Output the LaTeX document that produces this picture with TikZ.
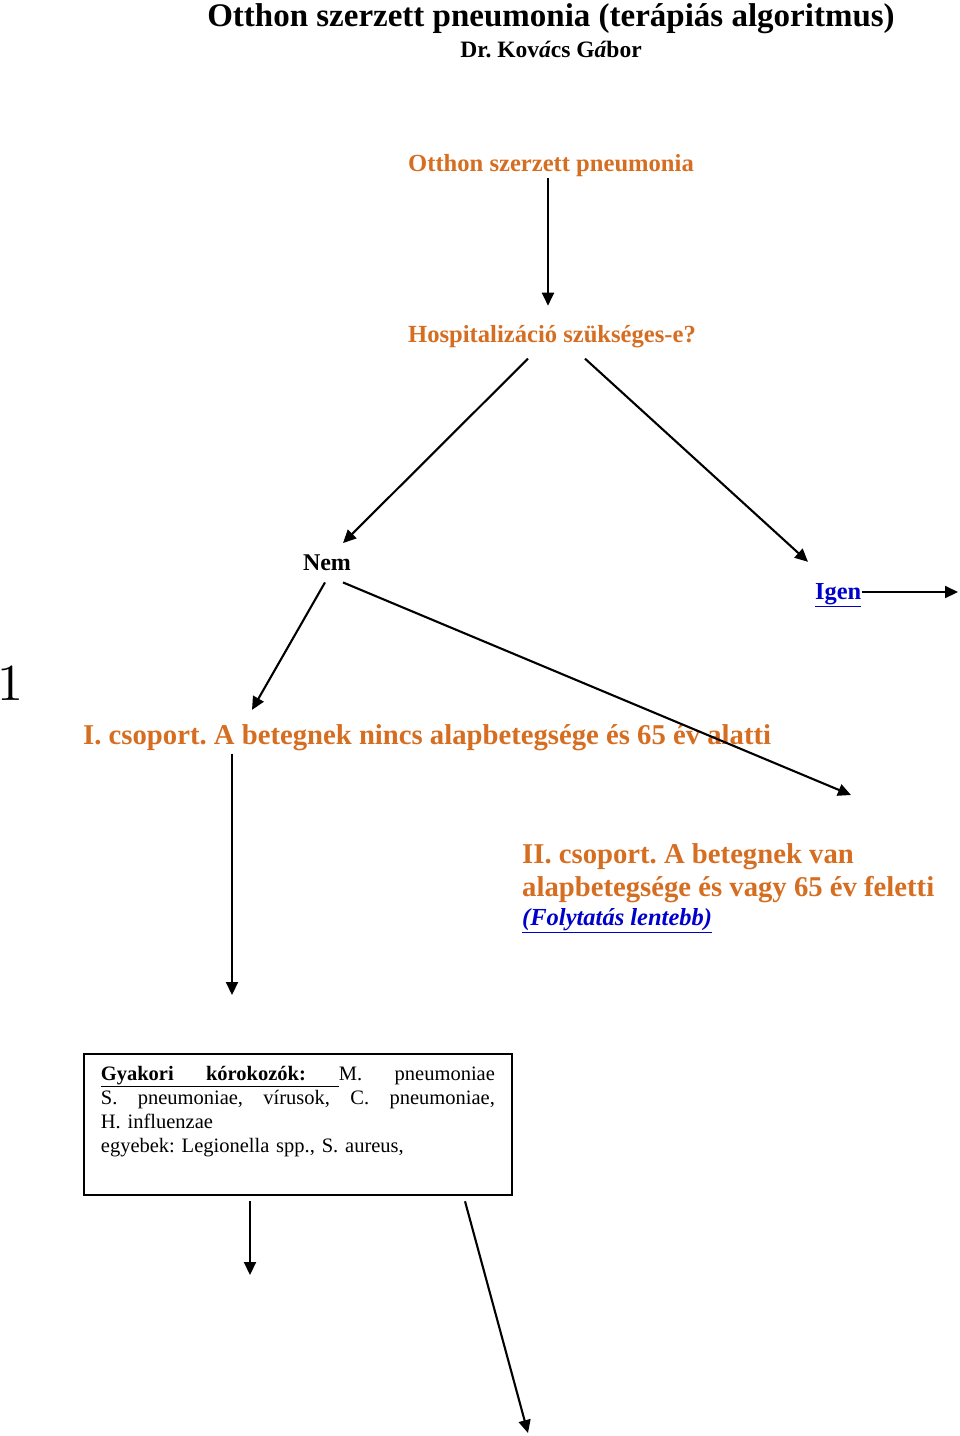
\documentclass[tikz,border=0pt]{standalone}
\usepackage{fontspec}
\setmainfont{Liberation Serif}
\newfontfamily\egyfont[Extension=.otf]{lmroman10-regular}
\usepackage{tikz}
\usetikzlibrary{arrows.meta,positioning}
\usepackage{xcolor}
\setlength{\parindent}{0pt}
\definecolor{osorange}{RGB}{214,110,34}
\definecolor{oslink}{RGB}{0,0,204}
\tikzstyle{arrow} = [line width=2.1pt,-{Triangle[length=13pt,width=12pt]},color=black]
\tikzstyle{cim} = [inner sep=0pt, font=\bfseries\fontsize{33}{36}\selectfont]
\tikzstyle{szerzo} = [inner sep=0pt, font=\bfseries\fontsize{23.5}{28}\selectfont]
\tikzstyle{lepes} = [inner sep=0pt, text=osorange, font=\bfseries\fontsize{24.6}{30}\selectfont]
\tikzstyle{lepesnagy} = [inner sep=0pt, text=osorange, align=left, font=\bfseries\fontsize{28.7}{33}\selectfont]
\tikzstyle{dontes} = [inner sep=0pt, font=\bfseries\fontsize{24}{30}\selectfont]
\tikzstyle{link} = [inner sep=0pt, text=oslink, font=\bfseries\fontsize{24.4}{30}\selectfont]
\tikzstyle{korbox} = [rectangle, draw=black, line width=1.8pt, anchor=north west, align=left, text width=394pt, inner xsep=17pt, inner ysep=12pt, font=\fontsize{20.5}{24}\selectfont]

\begin{document}
\frenchspacing
\begin{tikzpicture}[x=1pt,y=-1pt]
    \useasboundingbox (0,0) rectangle (960,1436);

    % Title
    \node[cim, anchor=base] (cim) at (551,26) {Otthon szerzett pneumonia (terápiás algoritmus)};
    \node[szerzo, anchor=base] (szerzo) at (551,57) {Dr. Kov\textit{á}cs G\textit{á}bor};

    % Top steps
    \node[lepes, anchor=base] (osp) at (551,171) {Otthon szerzett pneumonia};
    \node[lepes, anchor=base] (hosp) at (552,342) {Hospitalizáció szükséges-e?};

    % Decision
    \node[dontes, anchor=base] (nem) at (327,570) {Nem};
    \node[link, anchor=base west] (igen) at (815,599) {\underline{Igen}};
    \coordinate (igenki) at (958,592);

    \node[anchor=base west, inner sep=0pt, font=\egyfont\fontsize{52}{56}\selectfont] (egy) at (-3,700) {1};

    % Groups
    \node[lepesnagy, anchor=base west] (csop1) at (83,744) {I. csoport. A betegnek nincs alapbetegsége és 65 év alatti};
    \node[lepesnagy, anchor=north west] (csop2) at (522,843) {II. csoport. A betegnek van\\alapbetegsége és vagy 65 év feletti\\[-4pt]{\fontsize{24.5}{28}\selectfont\itshape\color{oslink}\underline{(Folytatás lentebb)}}};

    % Pathogens
    \node[korbox] (kor) at (83,1053) {\leavevmode\hbox to 394pt{\underline{\hbox to 238pt{\textbf{Gyakori}\hfill\textbf{kórokozók:}\hspace{33pt}}}M.\hfill pneumoniae}\\
        \leavevmode\hbox to 394pt{S.\hfill pneumoniae,\hfill vírusok,\hfill C.\hfill pneumoniae,}\\
        H. influenzae\\
        egyebek: Legionella spp., S. aureus,\\
        \strut};
    \coordinate (ki1) at (250,1275);
    \coordinate (ki2) at (528,1433);

    % Connections
    \draw[arrow] ([xshift=-3pt,yshift=-2pt]osp.south) -- ([xshift=-4pt,yshift=19pt]hosp.north);
    \draw[arrow] ([xshift=-24pt,yshift=-11pt]hosp.south) -- ([xshift=16pt,yshift=11pt]nem.north);
    \draw[arrow] ([xshift=33pt,yshift=-11pt]hosp.south) -- ([xshift=-7pt,yshift=21pt]igen.north west);
    \draw[arrow] (igen.east |- igenki) -- (igenki);
    \draw[arrow] ([xshift=-2pt,yshift=-12pt]nem.south) -- ([xshift=169pt,yshift=14pt]csop1.north west);
    \draw[arrow] ([xshift=16pt,yshift=-12pt]nem.south) -- ([xshift=329pt,yshift=48pt]csop2.north west);
    \draw[arrow] ([xshift=149pt,yshift=-3pt]csop1.south west) -- ([xshift=149pt,yshift=58pt]kor.north west);
    \draw[arrow] ([xshift=167pt,yshift=-5pt]kor.south west) -- (ki1);
    \draw[arrow] ([xshift=382pt,yshift=-5pt]kor.south west) -- (ki2);
\end{tikzpicture}
\end{document}
